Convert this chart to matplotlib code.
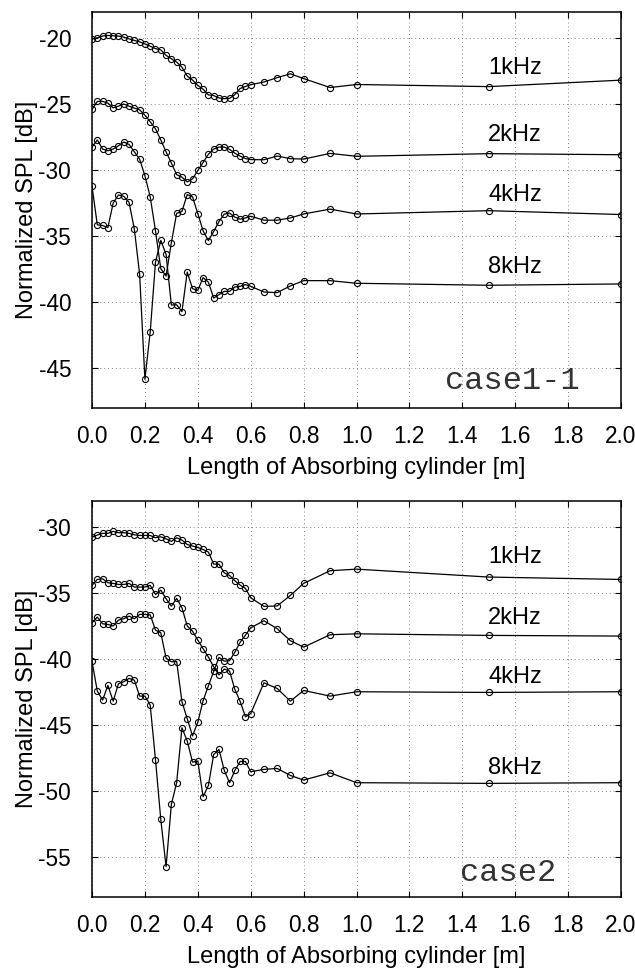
import matplotlib
matplotlib.use("Agg")
import matplotlib.pyplot as plt

plt.rcParams['font.family'] = ['Liberation Sans', 'DejaVu Sans']
plt.rcParams['axes.unicode_minus'] = False

# cylinder length [m] -- same sampling for every curve
length = [0.00, 0.02, 0.04, 0.06, 0.08, 0.10, 0.12, 0.14, 0.16, 0.18,
          0.20, 0.22, 0.24, 0.26, 0.28, 0.30, 0.32, 0.34, 0.36, 0.38,
          0.40, 0.42, 0.44, 0.46, 0.48, 0.50, 0.52, 0.54, 0.56, 0.58,
          0.60, 0.65, 0.70, 0.75, 0.80, 0.90, 1.00, 1.50, 2.00]

# case1-1
c1_1k = [-20.05, -19.95, -19.82, -19.77, -19.80, -19.82, -19.90, -20.03, -20.15, -20.26,
         -20.41, -20.59, -20.77, -20.87, -21.28, -21.54, -21.79, -22.18, -22.85, -23.15,
         -23.56, -23.85, -24.28, -24.33, -24.51, -24.56, -24.54, -24.26, -23.79, -23.64,
         -23.50, -23.30, -22.97, -22.68, -23.04, -23.72, -23.49, -23.65, -23.16]
c1_2k = [-25.38, -24.77, -24.77, -24.90, -25.26, -25.13, -24.97, -25.13, -25.28, -25.41,
         -25.82, -26.31, -26.85, -27.69, -28.59, -29.44, -30.32, -30.51, -30.87, -30.64,
         -30.00, -29.40, -28.77, -28.38, -28.23, -28.23, -28.41, -28.69, -28.92, -29.10,
         -29.18, -29.19, -28.91, -29.11, -29.14, -28.71, -28.93, -28.73, -28.81]
c1_4k = [-28.23, -27.69, -28.38, -28.51, -28.38, -28.13, -27.85, -28.03, -28.59, -29.15,
         -30.40, -32.00, -34.58, -37.45, -38.00, -35.47, -33.25, -33.10, -31.83, -32.00,
         -33.28, -34.58, -35.32, -34.63, -33.87, -33.31, -33.23, -33.54, -33.69, -33.60,
         -33.47, -33.77, -33.77, -33.60, -33.30, -32.93, -33.30, -33.05, -33.34]
c1_8k = [-31.20, -34.12, -34.17, -34.33, -32.47, -31.86, -31.96, -32.42, -34.43, -37.86,
         -45.83, -42.24, -36.95, -35.30, -36.36, -40.20, -40.18, -40.70, -37.70, -38.96,
         -39.08, -38.12, -38.47, -39.67, -39.41, -39.16, -39.16, -38.83, -38.78, -38.65,
         -38.78, -39.21, -39.26, -38.75, -38.35, -38.35, -38.55, -38.70, -38.60]

# case2
c2_1k = [-30.73, -30.58, -30.45, -30.45, -30.30, -30.40, -30.40, -30.45, -30.56, -30.61,
         -30.61, -30.61, -30.78, -30.71, -30.86, -31.06, -30.78, -30.96, -31.29, -31.41,
         -31.52, -31.67, -31.87, -32.78, -32.78, -33.44, -33.64, -34.04, -34.37, -34.62,
         -35.33, -35.98, -35.95, -35.15, -34.24, -33.28, -33.16, -33.76, -33.94]
c2_b = [-34.39, -33.94, -33.89, -34.19, -34.24, -34.32, -34.32, -34.24, -34.52, -34.52,
        -34.52, -34.39, -35.08, -34.75, -35.40, -35.96, -35.38, -36.09, -37.47, -37.86,
        -38.54, -39.19, -39.82, -40.56, -41.17, -40.73, -40.88, -42.27, -43.18, -44.34,
        -44.10, -41.77, -42.20, -43.16, -42.35, -42.78, -42.45, -42.50, -42.45]
c2_c = [-37.22, -36.79, -37.30, -37.35, -37.47, -37.02, -36.92, -36.72, -36.92, -36.59,
        -36.59, -36.62, -37.78, -37.98, -39.90, -40.18, -40.16, -43.20, -44.50, -45.80,
        -44.75, -43.13, -42.00, -40.90, -39.85, -40.13, -40.10, -39.45, -38.70, -38.16,
        -37.60, -37.07, -37.67, -38.58, -39.07, -38.13, -38.06, -38.18, -38.23]
c2_d = [-40.15, -42.40, -43.08, -41.97, -43.16, -41.84, -41.69, -41.44, -41.57, -42.78,
        -42.78, -43.46, -47.60, -52.12, -55.70, -50.98, -49.34, -45.18, -46.19, -47.78,
        -47.70, -50.40, -49.55, -47.20, -46.82, -48.41, -49.34, -48.41, -47.73, -47.73,
        -48.51, -48.33, -48.26, -48.79, -49.14, -48.59, -49.34, -49.39, -49.34]

freq_labels = ['1kHz', '2kHz', '4kHz', '8kHz']
c1_label_y = [-22.24, -27.32, -31.86, -37.30]
c2_label_y = [-32.27, -36.84, -41.31, -48.25]
label_x = 1.6

x_ticks = [0.0, 0.2, 0.4, 0.6, 0.8, 1.0, 1.2, 1.4, 1.6, 1.8, 2.0]
c1_yticks = [-45, -40, -35, -30, -25, -20]
c2_yticks = [-55, -50, -45, -40, -35, -30]

FS = 16.3


def draw_panel(ax, curves, label_y, yticks, ylim, case_text, case_pos):
    for ys in curves:
        ax.plot(length, ys, color='black', lw=0.9, marker='o', ms=4.4,
                mfc='none', mec='black', mew=0.8)
    for txt, ly in zip(freq_labels, label_y):
        ax.text(label_x, ly, txt, ha='center', va='center', fontsize=FS + 0.7)
    ax.text(case_pos[0], case_pos[1], case_text, ha='center', va='center',
            fontsize=23, family='Liberation Mono', color='#333333')
    ax.set_xlim(0, 2.0)
    ax.set_ylim(*ylim)
    ax.set_xticks(x_ticks)
    ax.set_xticklabels([f"{t:.1f}" for t in x_ticks])
    ax.set_yticks(yticks)
    ax.set_yticklabels([str(t) for t in yticks])
    ax.tick_params(direction='in', top=True, right=True, length=4, width=0.8,
                   labelsize=FS)
    ax.tick_params(axis='y', pad=15)
    ax.tick_params(axis='x', pad=12)
    ax.grid(True, color='#888888', linestyle=(0, (1, 3)), lw=0.7)
    for s in ax.spines.values():
        s.set_linewidth(1.1)
    ax.set_xlabel('Length of Absorbing cylinder [m]', fontsize=FS + 0.7, labelpad=7)
    ax.set_ylabel('Normalized SPL [dB]', fontsize=FS + 0.7, labelpad=0)


fig = plt.figure(figsize=(6.35, 9.71), dpi=100)
ax1 = fig.add_axes([0.1449, 0.5798, 0.8331, 0.4078])
ax2 = fig.add_axes([0.1449, 0.0762, 0.8331, 0.4078])

draw_panel(ax1, [c1_1k, c1_2k, c1_4k, c1_8k], c1_label_y, c1_yticks, (-48, -18),
           'case1-1', (1.59, -45.95))
draw_panel(ax2, [c2_1k, c2_b, c2_c, c2_d], c2_label_y, c2_yticks, (-58, -28),
           'case2', (1.575, -56.2))

fig.savefig('out.png', dpi=100)
